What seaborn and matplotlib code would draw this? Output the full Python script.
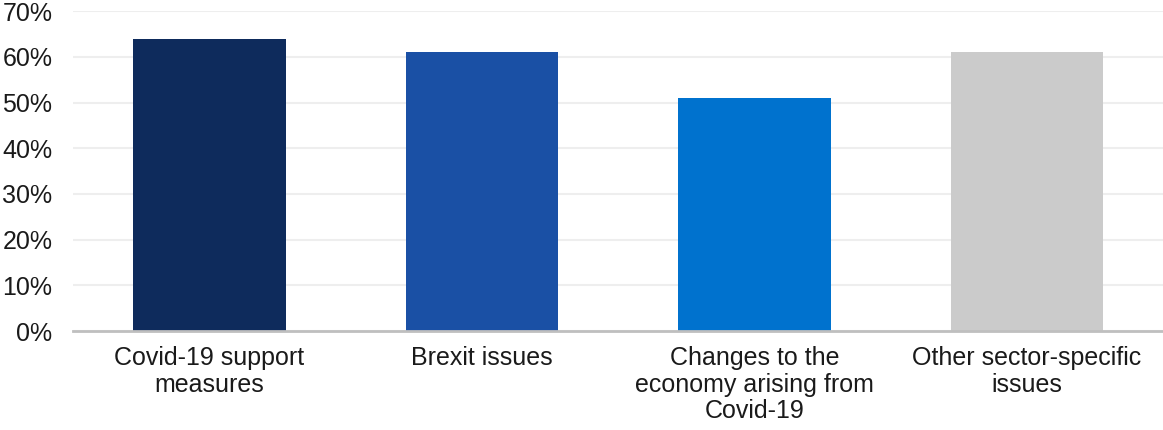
import matplotlib
matplotlib.use("Agg")
import matplotlib.pyplot as plt
import seaborn as sns
import pandas as pd
from matplotlib.ticker import FuncFormatter

categories = ["Covid-19 support\nmeasures", "Brexit issues",
              "Changes to the\neconomy arising from\nCovid-19",
              "Other sector-specific\nissues"]
values = [64, 61, 51, 61]
colors = ["#0e2b5c", "#1a50a5", "#0072ce", "#cbcbcb"]

sns.set_theme(style="white")
plt.rcParams['font.family'] = ['Liberation Sans', 'DejaVu Sans']

df = pd.DataFrame({"cat": categories, "val": values})

fig = plt.figure(figsize=(11.63, 4.30), dpi=100)
ax = fig.add_axes([0.063, 0.230, 0.937, 0.744])
sns.barplot(data=df, x="cat", y="val", hue="cat", palette=colors, legend=False,
            width=0.56, saturation=1, linewidth=0, ax=ax)

ax.set_ylim(0, 70)
ax.set_xlim(-0.5, 3.5)
ax.set_yticks(range(0, 71, 10))
ax.yaxis.set_major_formatter(FuncFormatter(lambda v, p: f"{int(v)}%"))
ax.grid(axis="y", color="#eeeeee", linewidth=1.5)
ax.set_axisbelow(True)
for s in ["top", "right", "left"]:
    ax.spines[s].set_visible(False)
ax.spines["bottom"].set_color("#bfbfbf")
ax.spines["bottom"].set_linewidth(2)
ax.tick_params(axis="y", length=0, pad=15, labelsize=18, labelcolor="#1a1a1a")
ax.tick_params(axis="x", length=0, pad=11, labelsize=18, labelcolor="#1a1a1a")
for t in ax.get_xticklabels():
    t.set_linespacing(1.13)
ax.set_xlabel("")
ax.set_ylabel("")

fig.savefig("out.png", dpi=100)
